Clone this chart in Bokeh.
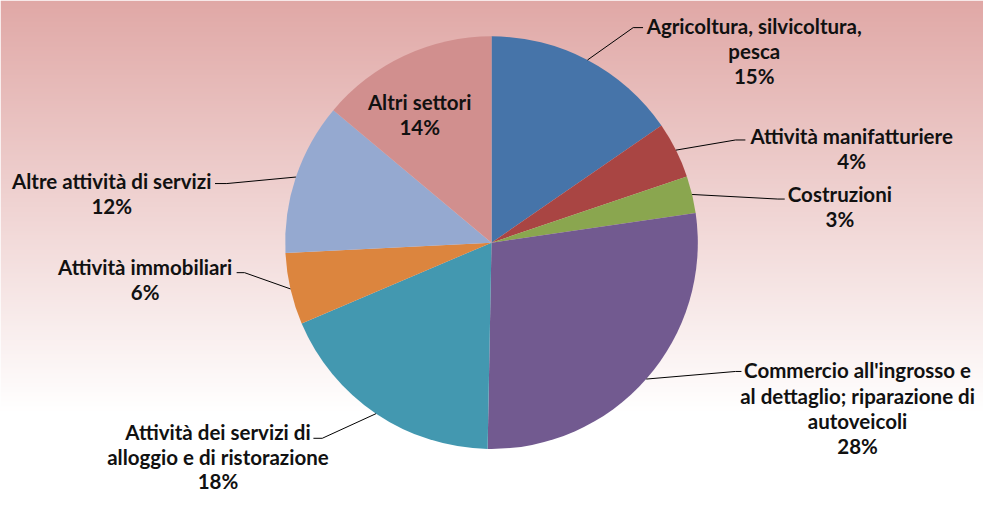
import numpy as np
from bokeh.plotting import figure
from bokeh.models import Range1d, ColumnDataSource
from bokeh.core.properties import value
from bokeh.embed import file_html
from bokeh.resources import INLINE

# ---- data ----
sectors = [
    "Agricoltura, silvicoltura,\npesca",
    "Attività manifatturiere",
    "Costruzioni",
    "Commercio all'ingrosso e\nal dettaglio; riparazione di\nautoveicoli",
    "Attività dei servizi di\nalloggio e di ristorazione",
    "Attività immobiliari",
    "Altre attività di servizi",
    "Altri settori",
]
shares = [15.4, 4.4, 2.9, 27.6, 18.3, 5.6, 11.9, 13.9]
colors = ["#4674a9", "#a94543", "#8aa64f", "#725a90", "#4398b0", "#dc853e", "#95a9d0", "#d18f8e"]

# ---- layout (reference pixel coordinates, y measured from top) ----
W, H = 999, 509
PW, PH = 983, 493
SX, SY = PW / W, PH / H
CX, CY, R = 499, 250, 213
R_SCREEN = R * SY
RX, RY = R_SCREEN / SX, R_SCREEN / SY
# label block: centre x, first-line centre y
label_pos = [(766, 26), (865, 140), (853, 200), (871, 382), (221, 445), (147, 275), (113, 186), (426, 105)]
# leader: elbow point and end point (None = no leader)
leaders = [((643, 28), (653, 28)), ((747, 144), (757, 144)), ((790, 205), (797, 205)),
           ((747, 383), (753, 383)), ((327, 452), (318, 452)), ((248, 281), (240, 281)),
           ((230, 189), (218, 189)), None]
LINE_H = 26
LAST_H = 25

def fy(y):
    return H - y

p = figure(width=PW, height=PH, x_range=Range1d(0, W), y_range=Range1d(0, H),
           output_backend="svg", toolbar_location=None, x_axis_type=None, y_axis_type=None,
           min_border=0, outline_line_color=None)
p.xgrid.visible = False
p.ygrid.visible = False
p.background_fill_color = "white"
p.border_fill_color = "white"

# ---- background gradient (one image, no seams) ----
top = np.array([224, 168, 166])
rows = np.arange(H)[::-1]  # image row 0 is the bottom
t = np.clip(rows / 425.0, 0, 1)[:, None]
rgb = (top[None, :] + (255 - top[None, :]) * t).round().astype(np.uint32)
img = np.empty((H, 1), dtype=np.uint32)
img[:, 0] = (255 << 24) | (rgb[:, 2] << 16) | (rgb[:, 1] << 8) | rgb[:, 0]
p.image_rgba(image=[img], x=0, y=0, dw=W, dh=H)

# ---- pie ----
frac = np.array(shares) / sum(shares)
cum = np.concatenate([[0], np.cumsum(frac)])
start = np.pi / 2 - cum[1:] * 2 * np.pi
end = np.pi / 2 - cum[:-1] * 2 * np.pi
src = ColumnDataSource(dict(start=start, end=end, color=colors))
p.wedge(x=CX, y=fy(CY), radius=R_SCREEN, radius_units="screen", start_angle="start", end_angle="end",
        fill_color="color", line_color=None, source=src)

# ---- leader lines ----
mid = (cum[:-1] + cum[1:]) / 2 * 2 * np.pi  # clockwise from 12 o'clock
for i, ld in enumerate(leaders):
    if ld is None:
        continue
    sx = CX + RX * np.sin(mid[i])
    sy = CY - RY * np.cos(mid[i])
    (ex, ey), (tx, ty) = ld
    p.line([sx, ex, tx], [fy(sy), fy(ey), fy(ty)], line_color="black", line_width=1)

# ---- labels ----
tx_, ty_, tt_ = [], [], []
for i, name in enumerate(sectors):
    lines = name.split("\n") + ["%d%%" % round(shares[i])]
    x0, y0 = label_pos[i]
    for j, ln in enumerate(lines):
        tx_.append(x0)
        ty_.append(fy(y0 + j * LINE_H - (LINE_H - LAST_H) * (j == len(lines) - 1 and i == 4)))
        tt_.append(ln)
p.text(x=tx_, y=ty_, text=tt_, text_font=value("Lato"), text_font_style="bold",
       text_font_size="20.5px", text_align="center", text_baseline="middle", text_color="#111111")

open("out.html", "w").write(file_html(p, INLINE))
